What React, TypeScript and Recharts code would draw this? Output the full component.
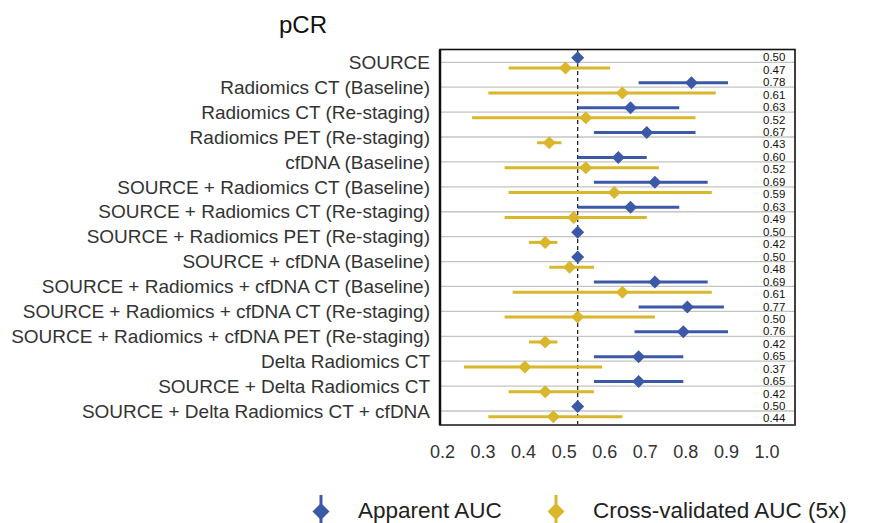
import React from 'react';
import {
  ScatterChart,
  Scatter,
  XAxis,
  YAxis,
  CartesianGrid,
  ReferenceLine,
  ReferenceArea,
  ErrorBar,
  LabelList,
  Legend,
} from 'recharts';

// ---------------- data ----------------
const categories = [
  'SOURCE',
  'Radiomics CT (Baseline)',
  'Radiomics CT (Re-staging)',
  'Radiomics PET (Re-staging)',
  'cfDNA (Baseline)',
  'SOURCE + Radiomics CT (Baseline)',
  'SOURCE + Radiomics CT (Re-staging)',
  'SOURCE + Radiomics PET (Re-staging)',
  'SOURCE + cfDNA (Baseline)',
  'SOURCE + Radiomics + cfDNA CT (Baseline)',
  'SOURCE + Radiomics + cfDNA CT (Re-staging)',
  'SOURCE + Radiomics + cfDNA PET (Re-staging)',
  'Delta Radiomics CT',
  'SOURCE + Delta Radiomics CT',
  'SOURCE + Delta Radiomics CT + cfDNA',
];

const apparentAuc = [0.50, 0.78, 0.63, 0.67, 0.60, 0.69, 0.63, 0.50, 0.50, 0.69, 0.77, 0.76, 0.65, 0.65, 0.50];
const apparentLow = [0.50, 0.65, 0.50, 0.54, 0.50, 0.54, 0.50, 0.50, 0.50, 0.54, 0.65, 0.64, 0.54, 0.54, 0.50];
const apparentHigh = [0.50, 0.87, 0.75, 0.79, 0.67, 0.82, 0.75, 0.50, 0.50, 0.82, 0.86, 0.87, 0.76, 0.76, 0.50];

const cvAuc = [0.47, 0.61, 0.52, 0.43, 0.52, 0.59, 0.49, 0.42, 0.48, 0.61, 0.50, 0.42, 0.37, 0.42, 0.44];
const cvLow = [0.33, 0.28, 0.24, 0.40, 0.32, 0.33, 0.32, 0.38, 0.43, 0.34, 0.32, 0.38, 0.22, 0.33, 0.28];
const cvHigh = [0.58, 0.84, 0.79, 0.46, 0.70, 0.83, 0.67, 0.45, 0.54, 0.83, 0.69, 0.45, 0.56, 0.54, 0.61];

const xTickLabels = [0.2, 0.3, 0.4, 0.5, 0.6, 0.7, 0.8, 0.9, 1.0];
const referenceAuc = 0.5;

const seriesNames = ['Apparent AUC', 'Cross-validated AUC (5x)'];

// ---------------- styling ----------------
const FONT = '"Liberation Sans", Arial, Helvetica, sans-serif';
const BLUE = '#3c59a8';
const GOLD = '#d9b62a';

const DATA_DOMAIN: [number, number] = [0.161, 1.035];
const TICK_DOMAIN: [number, number] = [0.194, 1.069];
const Y_DOMAIN: [number, number] = [-0.514, 14.562];
const BLUE_SHIFT = -0.18;
const GOLD_SHIFT = 0.23;
const VALUE_X = 763;

const apparentRows = categories.map((c, i) => ({
  name: c,
  x: apparentAuc[i],
  y: i + BLUE_SHIFT,
  err: [apparentAuc[i] - apparentLow[i], apparentHigh[i] - apparentAuc[i]],
  label: apparentAuc[i].toFixed(2),
}));

const cvRows = categories.map((c, i) => ({
  name: c,
  x: cvAuc[i],
  y: i + GOLD_SHIFT,
  err: [cvAuc[i] - cvLow[i], cvHigh[i] - cvAuc[i]],
  label: cvAuc[i].toFixed(2),
}));

// anchors so the displayed tick axis has a domain to work with (drawn invisibly)
const tickAnchorRows = xTickLabels.map((t) => ({ x: t, y: 0 }));

const makeDiamond = (color: string, r: number) => (props: any) => {
  const { cx, cy } = props;
  if (cx == null || cy == null) return <g />;
  return (
    <polygon
      points={`${cx},${cy - r} ${cx + r},${cy} ${cx},${cy + r} ${cx - r},${cy}`}
      fill={color}
    />
  );
};

const emptyShape = () => <g />;

const makeValueLabel = (shiftPx: number) => (props: any) => {
  const { viewBox, value } = props;
  let cy: number;
  if (viewBox && viewBox.y != null) {
    cy = viewBox.y + (viewBox.height || 0) / 2;
  } else {
    cy = (props.y || 0) + (props.height || 0) / 2;
  }
  return (
    <text x={VALUE_X} y={cy + shiftPx} dy="0.36em" fontSize={11.5} fill="#111" fontFamily={FONT}>
      {value}
    </text>
  );
};

const legendColors = [BLUE, GOLD];
const legendIconX = [321, 556];
const legendTextX = [358, 593];

const renderLegend = () => (
  <svg width={875} height={33} style={{ display: 'block' }}>
    {seriesNames.map((n, i) => {
      const cx = legendIconX[i];
      const cy = 21.5;
      const r = 8.5;
      return (
        <g key={n}>
          <line x1={cx} x2={cx} y1={5} y2={33} stroke={legendColors[i]} strokeWidth={3} />
          <polygon
            points={`${cx},${cy - r} ${cx + r},${cy} ${cx},${cy + r} ${cx - r},${cy}`}
            fill={legendColors[i]}
          />
          <text x={legendTextX[i]} y={28} fontSize={22.5} fill="#222" fontFamily={FONT}>
            {n}
          </text>
        </g>
      );
    })}
  </svg>
);

export default function App() {
  return (
    <div style={{ position: 'absolute', left: 0, top: 0, width: 875, height: 523, background: '#fff' }}>
      <ScatterChart width={875} height={523} margin={{ top: 49.5, right: 80, bottom: 0, left: 0 }}>
        <CartesianGrid
          xAxisId="data"
          vertical={false}
          stroke="#c4c4c4"
          strokeWidth={1.3}
        />
        <XAxis
          xAxisId="tick"
          type="number"
          dataKey="x"
          domain={TICK_DOMAIN}
          allowDataOverflow
          ticks={xTickLabels}
          interval={0}
          tickFormatter={(v: number) => v.toFixed(1)}
          tickLine={false}
          tickSize={0}
          tickMargin={20}
          height={65}
          axisLine={{ stroke: '#555', strokeWidth: 1.5 }}
          tick={{ fontSize: 18, fill: '#333', fontFamily: FONT }}
        />
        <XAxis
          xAxisId="data"
          type="number"
          dataKey="x"
          domain={DATA_DOMAIN}
          allowDataOverflow
          height={0}
          hide
        />
        <YAxis
          type="number"
          dataKey="y"
          domain={Y_DOMAIN}
          allowDataOverflow
          reversed
          ticks={categories.map((_, i) => i)}
          interval={0}
          tickFormatter={(v: number) => categories[Math.round(v)] ?? ''}
          width={440}
          tickLine={false}
          tickSize={0}
          tickMargin={10}
          axisLine={{ stroke: '#111', strokeWidth: 2.5 }}
          tick={{ fontSize: 19, fill: '#333', fontFamily: FONT }}
        />
        <ReferenceArea
          xAxisId="data"
          x1={DATA_DOMAIN[0]}
          x2={DATA_DOMAIN[1]}
          y1={Y_DOMAIN[0]}
          y2={Y_DOMAIN[1]}
          fill="none"
          stroke="#111"
          strokeWidth={1.6}
          ifOverflow="visible"
        />
        <ReferenceLine
          xAxisId="data"
          x={referenceAuc}
          stroke="#111"
          strokeWidth={1.2}
          strokeDasharray="4 3"
        />
        <Scatter
          xAxisId="tick"
          data={tickAnchorRows}
          shape={emptyShape}
          legendType="none"
          isAnimationActive={false}
        />
        <Scatter
          name={seriesNames[0]}
          xAxisId="data"
          data={apparentRows}
          fill={BLUE}
          shape={makeDiamond(BLUE, 6.5)}
          isAnimationActive={false}
        >
          <ErrorBar dataKey="err" direction="x" width={0} stroke={BLUE} strokeWidth={3} />
          <LabelList dataKey="label" content={makeValueLabel(-0.5)} />
        </Scatter>
        <Scatter
          name={seriesNames[1]}
          xAxisId="data"
          data={cvRows}
          fill={GOLD}
          shape={makeDiamond(GOLD, 6.5)}
          isAnimationActive={false}
        >
          <ErrorBar dataKey="err" direction="x" width={0} stroke={GOLD} strokeWidth={3} />
          <LabelList dataKey="label" content={makeValueLabel(1.6)} />
        </Scatter>
        <Legend
          verticalAlign="bottom"
          content={renderLegend}
          wrapperStyle={{ left: 0, top: 490, width: 875, height: 33, margin: 0, padding: 0 }}
        />
      </ScatterChart>
      <div
        style={{
          position: 'absolute',
          left: 279,
          top: 13.2,
          fontFamily: FONT,
          fontSize: 24,
          lineHeight: '24px',
          color: '#111',
          whiteSpace: 'nowrap',
        }}
      >
        pCR
      </div>
    </div>
  );
}
